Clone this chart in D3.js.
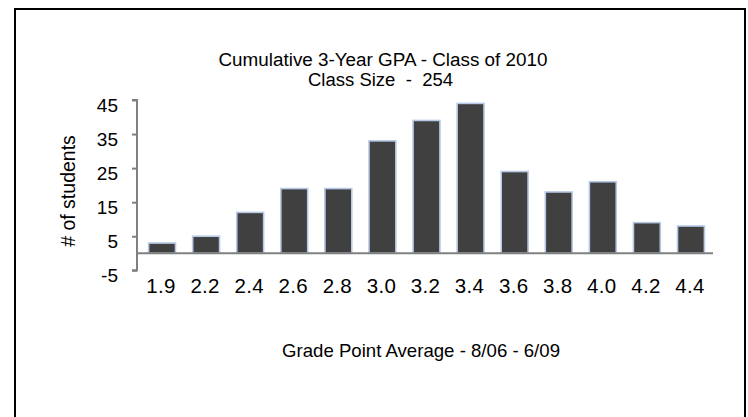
<!DOCTYPE html>
<html>
<head>
<meta charset="utf-8">
<script src="https://cdn.jsdelivr.net/npm/d3@7"></script>
<style>
    body { margin: 0; background: #fff; }
    svg text { font-family: "Liberation Sans", Arial, sans-serif; fill: #000; }
</style>
</head>
<body>
<svg width="748" height="417"></svg>
<script>
// chart values
const gpaBins = ["1.9", "2.2", "2.4", "2.6", "2.8", "3.0", "3.2", "3.4", "3.6", "3.8", "4.0", "4.2", "4.4"];
const studentCounts = [3, 5, 12, 19, 19, 33, 39, 44, 24, 18, 21, 9, 8];
const yTicks = [-5, 5, 15, 25, 35, 45];

const titleLines = ["Cumulative 3-Year GPA - Class of 2010", "Class Size  -  254"];
const xTitle = "Grade Point Average - 8/06 - 6/09";
const yTitle = "# of students";

const svg = d3.select("svg");

// outer frame (bottom edge runs off the picture)
svg.append("rect")
    .attr("x", 15).attr("y", 9)
    .attr("width", 730).attr("height", 430)
    .attr("fill", "none")
    .attr("stroke", "#000")
    .attr("stroke-width", 2);

let x = d3.scaleBand()
    .domain(gpaBins)
    .range([140, 713])
    .paddingInner(0.39)
    .paddingOuter(0.195);

let y = d3.scaleLinear()
    .domain([-5, 45])
    .range([270.3, 100]);

const axisX = 137;

// bars
svg.selectAll(".bar")
    .data(gpaBins.map((b, i) => ({ bin: b, n: studentCounts[i] })))
    .enter()
    .append("rect")
    .attr("class", "bar")
    .attr("x", d => x(d.bin))
    .attr("width", x.bandwidth())
    .attr("y", d => y(d.n))
    .attr("height", d => y(0) - y(d.n))
    .attr("fill", "#404040")
    .attr("stroke", "#b7c9e6")
    .attr("stroke-width", 1.6);

// y axis
const yAxis = svg.append("g")
    .attr("transform", "translate(" + axisX + ",0)")
    .call(d3.axisLeft(y).tickValues(yTicks).tickSize(5).tickPadding(0).tickFormat(d => String(d)));
yAxis.select(".domain").attr("stroke", "#808080").attr("stroke-width", 2)
    .attr("d", "M-5," + y(45) + "H0V" + y(-5) + "H-5");
yAxis.selectAll(".tick line").attr("stroke", "#808080").attr("stroke-width", 2);
yAxis.selectAll(".tick text")
    .attr("x", -19)
    .attr("dy", "0.6em")
    .style("font-size", "19px");

// zero line
svg.append("line")
    .attr("x1", axisX).attr("x2", 713)
    .attr("y1", y(0)).attr("y2", y(0))
    .attr("stroke", "#808080")
    .attr("stroke-width", 2);

// category labels
const xAxis = svg.append("g")
    .attr("transform", "translate(0,293)")
    .call(d3.axisBottom(x).tickSize(0).tickPadding(0));
xAxis.select(".domain").remove();
xAxis.selectAll(".tick text")
    .attr("dy", 0)
    .attr("dx", -1)
    .style("font-size", "20.5px")
    .style("letter-spacing", "0.3px");

// two-line title, stretched to the widths of the original lines
svg.selectAll(".title")
    .data(titleLines)
    .enter()
    .append("text")
    .attr("class", "title")
    .attr("text-anchor", "middle")
    .attr("x", (d, i) => i == 0 ? 383 : 380.5)
    .attr("y", (d, i) => 66 + i * 20)
    .attr("textLength", (d, i) => i == 0 ? 329 : 145)
    .attr("lengthAdjust", "spacingAndGlyphs")
    .style("font-size", "17.6px")
    .style("white-space", "pre")
    .text(d => d);

svg.append("text")
    .attr("text-anchor", "middle")
    .attr("x", 421)
    .attr("y", 357)
    .attr("textLength", 278)
    .attr("lengthAdjust", "spacingAndGlyphs")
    .style("font-size", "19px")
    .text(xTitle);

svg.append("text")
    .attr("text-anchor", "middle")
    .attr("transform", "translate(74.5,191) rotate(-90)")
    .style("font-size", "19.5px")
    .text(yTitle);
</script>
</body>
</html>
